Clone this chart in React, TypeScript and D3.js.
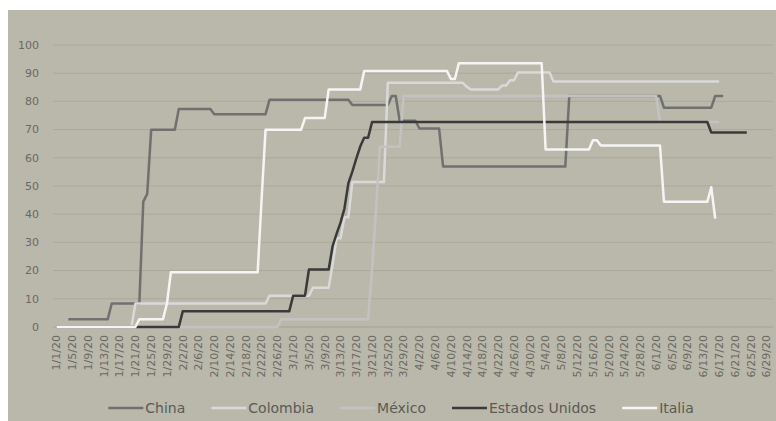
import { useEffect, useRef } from "react";
import * as d3 from "d3";

// ---------------------------------------------------------------------------
// Data: step changes of each country's index, [date, value]
// ---------------------------------------------------------------------------

type Step = [string, number];

const chinaSteps: Step[] = [
  ["2020-01-04", 2.78],
  ["2020-01-15", 8.33],
  ["2020-01-23", 44.44],
  ["2020-01-24", 47.22],
  ["2020-01-25", 69.91],
  ["2020-02-01", 77.31],
  ["2020-02-10", 75.46],
  ["2020-02-24", 80.56],
  ["2020-03-16", 78.7],
  ["2020-03-26", 81.94],
  ["2020-03-28", 73.15],
  ["2020-04-02", 70.37],
  ["2020-04-08", 56.94],
  ["2020-05-10", 81.94],
  ["2020-06-03", 77.78],
  ["2020-06-16", 81.94],
  ["2020-06-18", 81.94],
];

const colombiaSteps: Step[] = [
  ["2020-01-01", 0],
  ["2020-01-21", 8.33],
  ["2020-02-24", 11.11],
  ["2020-03-06", 13.89],
  ["2020-03-11", 22.22],
  ["2020-03-12", 31.48],
  ["2020-03-14", 38.89],
  ["2020-03-16", 51.39],
  ["2020-03-25", 86.57],
  ["2020-04-14", 85.19],
  ["2020-04-15", 84.26],
  ["2020-04-23", 85.65],
  ["2020-04-25", 87.5],
  ["2020-04-27", 90.28],
  ["2020-05-06", 87.04],
  ["2020-06-17", 87.04],
];

const mexicoSteps: Step[] = [
  ["2020-01-01", 0],
  ["2020-02-27", 2.78],
  ["2020-03-21", 20.37],
  ["2020-03-22", 41.67],
  ["2020-03-23", 63.89],
  ["2020-03-29", 81.94],
  ["2020-06-02", 72.69],
  ["2020-06-17", 72.69],
];

const usSteps: Step[] = [
  ["2020-01-01", 0],
  ["2020-02-02", 5.56],
  ["2020-03-01", 11.11],
  ["2020-03-05", 20.37],
  ["2020-03-11", 28.7],
  ["2020-03-12", 33.0],
  ["2020-03-13", 37.0],
  ["2020-03-14", 42.0],
  ["2020-03-15", 51.0],
  ["2020-03-16", 55.09],
  ["2020-03-17", 59.7],
  ["2020-03-18", 64.0],
  ["2020-03-19", 67.13],
  ["2020-03-21", 72.69],
  ["2020-06-15", 68.98],
  ["2020-06-24", 68.98],
];

const italiaSteps: Step[] = [
  ["2020-01-01", 0],
  ["2020-01-22", 2.78],
  ["2020-01-29", 8.33],
  ["2020-01-30", 19.44],
  ["2020-02-22", 45.37],
  ["2020-02-23", 69.91],
  ["2020-03-04", 74.07],
  ["2020-03-10", 84.26],
  ["2020-03-19", 90.74],
  ["2020-04-10", 87.96],
  ["2020-04-12", 93.52],
  ["2020-05-04", 62.96],
  ["2020-05-16", 66.2],
  ["2020-05-18", 64.35],
  ["2020-06-03", 44.44],
  ["2020-06-15", 49.54],
  ["2020-06-16", 38.43],
];

// drawing order = legend order (last one on top)
const seriesNames = ["China", "Colombia", "México", "Estados Unidos", "Italia"];
const seriesSteps = [chinaSteps, colombiaSteps, mexicoSteps, usSteps, italiaSteps];
const seriesColors = ["#707070", "#d9d9d9", "#c2c2c2", "#3a3a3a", "#f5f5f5"];

const yTicks = [0, 10, 20, 30, 40, 50, 60, 70, 80, 90, 100];
const axisStart = "2020-01-01";
const axisEnd = "2020-06-29";
const tickEveryDays = 4;

const W = 776;
const H = 421;
const FONT = "'DejaVu Sans', sans-serif";

const parse = d3.timeParse("%Y-%m-%d");
const fmt = d3.timeFormat("%-m/%-d/%y");

// each change reaches its new value one day after the previous day's value
function stepPoints(steps: Step[]): [Date, number][] {
  const pts: [Date, number][] = [];
  steps.forEach(([ds, v], i) => {
    const d = parse(ds)!;
    if (i > 0) pts.push([d3.timeDay.offset(d, -1), steps[i - 1][1]]);
    pts.push([d, v]);
  });
  return pts;
}

export default function App() {
  const svgRef = useRef<SVGSVGElement>(null);

  useEffect(() => {
    const svg = d3.select(svgRef.current);
    svg.selectAll("*").remove();

    // ---- frame ----
    svg.append("rect").attr("width", W).attr("height", H).attr("fill", "#ffffff");
    svg
      .append("rect")
      .attr("x", 8)
      .attr("y", 10)
      .attr("width", W - 8)
      .attr("height", H - 10)
      .attr("fill", "#bab8aa");

    const plot = { left: 53, right: 773, top: 45, bottom: 327 };

    // ---- scales ----
    const start = parse(axisStart)!;
    const end = parse(axisEnd)!;
    const x = d3.scaleTime().domain([start, end]).range([56.5, 766.5]);
    const y = d3.scaleLinear().domain([0, 100]).range([plot.bottom, plot.top]);

    // ---- gridlines ----
    svg
      .append("g")
      .selectAll("line")
      .data(yTicks)
      .join("line")
      .attr("x1", plot.left)
      .attr("x2", plot.right)
      .attr("y1", (d) => y(d))
      .attr("y2", (d) => y(d))
      .attr("stroke", (d) => (d === 0 ? "#a3a194" : "#aba99b"))
      .attr("stroke-width", 1);

    // ---- y labels ----
    svg
      .append("g")
      .selectAll("text")
      .data(yTicks)
      .join("text")
      .attr("x", 39)
      .attr("y", (d) => y(d))
      .attr("dy", "0.35em")
      .attr("text-anchor", "end")
      .attr("font-family", FONT)
      .attr("font-size", 11)
      .attr("fill", "#6a6963")
      .text((d) => d);

    // ---- x labels (rotated dates) ----
    const ticks = d3.timeDay.range(start, d3.timeDay.offset(end, 1), tickEveryDays);
    svg
      .append("g")
      .selectAll("text")
      .data(ticks)
      .join("text")
      .attr("transform", (d) => `translate(${x(d)},${plot.bottom + 8}) rotate(-90)`)
      .attr("dy", "0.35em")
      .attr("text-anchor", "end")
      .attr("font-family", FONT)
      .attr("font-size", 11)
      .attr("fill", "#6a6963")
      .text((d) => fmt(d));

    // ---- lines ----
    const line = d3
      .line<[Date, number]>()
      .x((d) => x(d[0]))
      .y((d) => y(d[1]));

    svg
      .append("g")
      .selectAll("path")
      .data(seriesSteps)
      .join("path")
      .attr("d", (d) => line(stepPoints(d)))
      .attr("fill", "none")
      .attr("stroke", (_d, i) => seriesColors[i])
      .attr("stroke-width", 2.5)
      .attr("stroke-linejoin", "round");

    // ---- legend (centred, measured) ----
    const lg = svg.append("g");
    const lineLen = 35;
    const textGap = 2;
    const itemGap = 26;
    const legendY = 408;
    let cursor = 0;
    seriesNames.forEach((name, i) => {
      const item = lg.append("g").attr("transform", `translate(${cursor},0)`);
      item
        .append("line")
        .attr("x1", 0)
        .attr("x2", lineLen)
        .attr("y1", legendY)
        .attr("y2", legendY)
        .attr("stroke", seriesColors[i])
        .attr("stroke-width", 2.5);
      const t = item
        .append("text")
        .attr("x", lineLen + textGap)
        .attr("y", legendY)
        .attr("dy", "0.35em")
        .attr("font-family", FONT)
        .attr("font-size", 14)
        .attr("fill", "#5a5a56")
        .text(name);
      const tw = (t.node() as SVGTextElement).getComputedTextLength();
      cursor += lineLen + textGap + tw + itemGap;
    });
    const total = cursor - itemGap;
    lg.attr("transform", `translate(${401 - total / 2},0)`);
  }, []);

  return (
    <div style={{ position: "absolute", left: 0, top: 0 }}>
      <svg ref={svgRef} width={W} height={H} style={{ display: "block" }} />
    </div>
  );
}
